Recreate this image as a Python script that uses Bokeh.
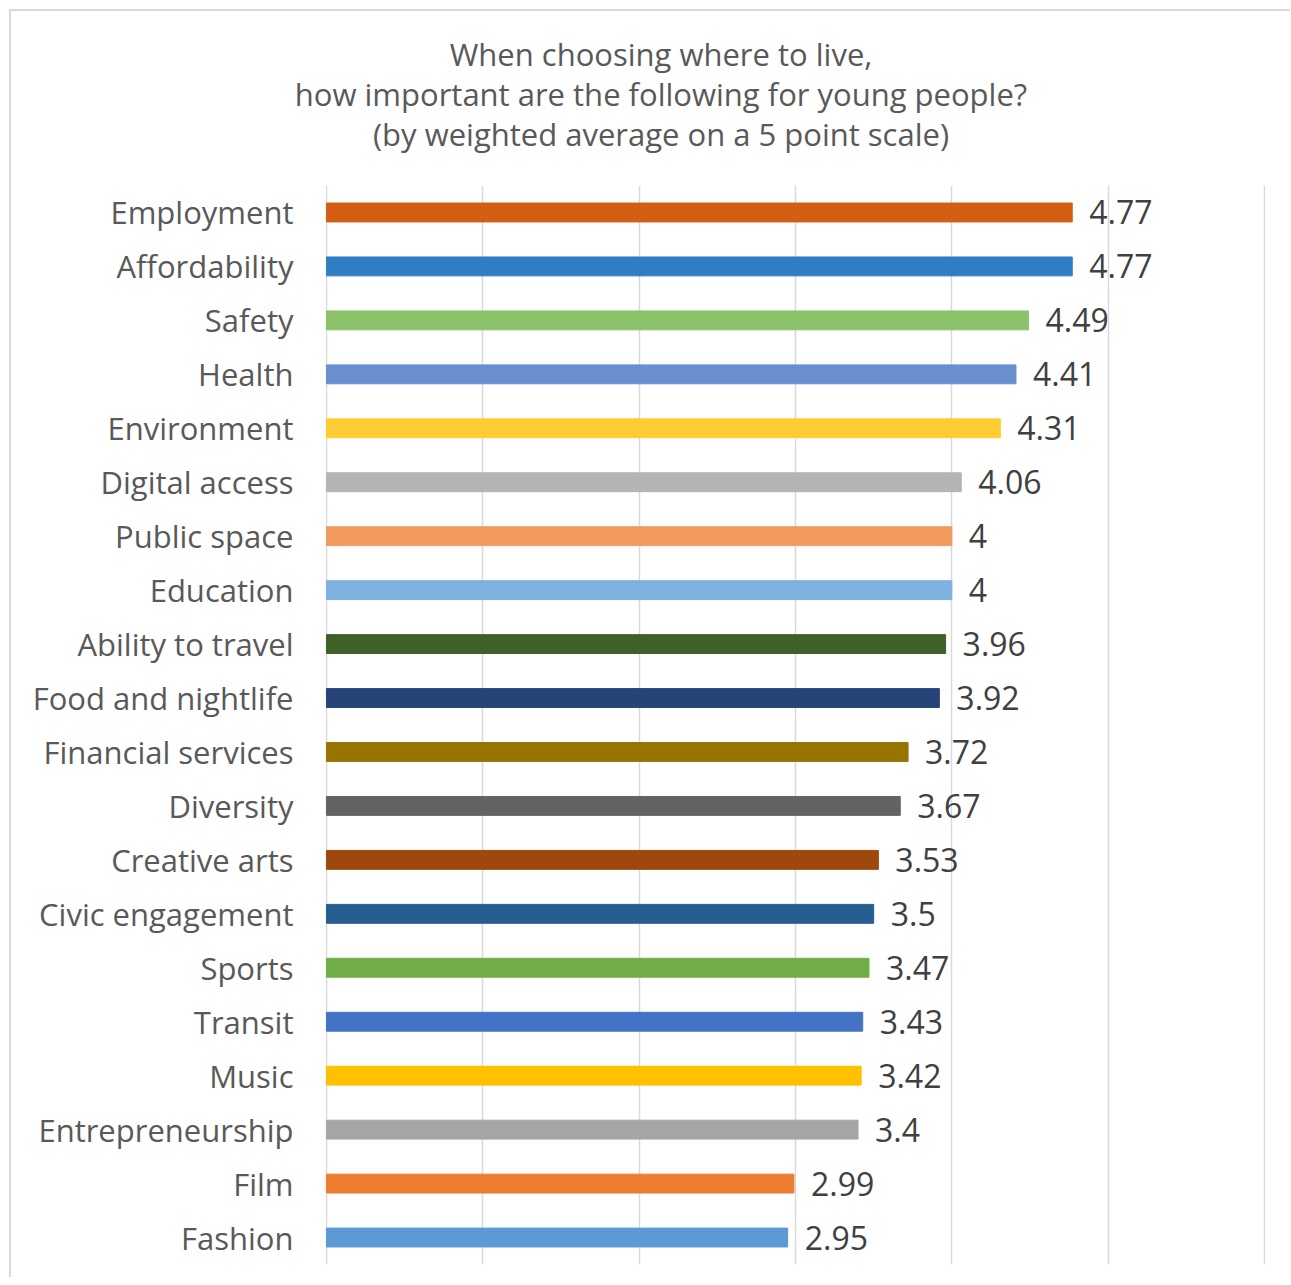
from bokeh.plotting import figure
from bokeh.models import Range1d, FixedTicker, ColumnDataSource, FactorRange, Div
from bokeh.layouts import column
from bokeh.embed import file_html
from bokeh.resources import INLINE
from bokeh.core.properties import value

categories = ["Employment", "Affordability", "Safety", "Health", "Environment",
              "Digital access", "Public space", "Education", "Ability to travel",
              "Food and nightlife", "Financial services", "Diversity", "Creative arts",
              "Civic engagement", "Sports", "Transit", "Music", "Entrepreneurship",
              "Film", "Fashion"]
scores = [4.77, 4.77, 4.49, 4.41, 4.31, 4.06, 4.00, 4.00, 3.96, 3.92,
          3.72, 3.67, 3.53, 3.50, 3.47, 3.43, 3.42, 3.40, 2.99, 2.95]
colors = ["#D35F14", "#2F7DC3", "#8BC168", "#6A8FD0", "#FFCC33",
          "#B4B4B4", "#F19A5F", "#7FB1E0", "#3E6128", "#264478",
          "#997300", "#636363", "#9E480E", "#255E91", "#70AD47",
          "#4472C4", "#FFC000", "#A5A5A5", "#ED7D31", "#5B9BD5"]
grid_ticks = [0, 1, 2, 3, 4, 5, 6]
title_lines = ["When choosing where to live,",
               "how important are the following for young people?",
               "(by weighted average on a 5 point scale)"]

labels = [f"{v:g}" for v in scores]
src = ColumnDataSource(dict(cat=categories, score=scores, color=colors, label=labels))

FONT = "Open Sans"
W = 1279

title_div = Div(
    text=(f"<div style=\"width:{W}px;box-sizing:border-box;padding-left:30px;padding-right:9px;"
          "padding-top:23px;text-align:center;line-height:40px;"
          f"font-family:'{FONT}';font-size:31px;color:#595959;\">"
          + "<br>".join(title_lines) + "</div>"),
    width=W, height=160, margin=(0, 0, 0, 0))

p = figure(width=W, height=1106,
           y_range=FactorRange(*reversed(categories)),
           x_range=Range1d(-0.006, 6.006),
           output_backend="svg", toolbar_location=None,
           min_border_left=314, min_border_top=14,
           min_border_right=25, min_border_bottom=13)
p.outline_line_color = None
p.background_fill_color = "white"
p.border_fill_color = "white"

p.hbar(y="cat", left=0, right="score", height=0.35, color="color", source=src)
p.text(x="score", y="cat", text="label", source=src, x_offset=17,
       text_baseline="middle", text_align="left",
       text_font=value(FONT), text_font_size="32px", text_color="#404040")

p.xaxis.visible = False
p.xgrid.ticker = FixedTicker(ticks=grid_ticks)
p.xgrid.grid_line_color = "#D9D9D9"
p.xgrid.grid_line_width = 1.5
p.ygrid.grid_line_color = None

ax = p.yaxis[0]
ax.axis_line_color = None
ax.major_tick_line_color = None
ax.minor_tick_line_color = None
ax.major_tick_out = 0
ax.major_tick_in = 0
ax.major_label_standoff = 32
ax.major_label_text_font = FONT
ax.major_label_text_font_size = "31px"
ax.major_label_text_color = "#595959"

lay = column(title_div, p, styles={"margin-left": "9px", "margin-top": "9px",
                                   "border-left": "2px solid #D9D9D9",
                                   "border-top": "2px solid #D9D9D9"})

open("out.html", "w").write(file_html(lay, INLINE))
